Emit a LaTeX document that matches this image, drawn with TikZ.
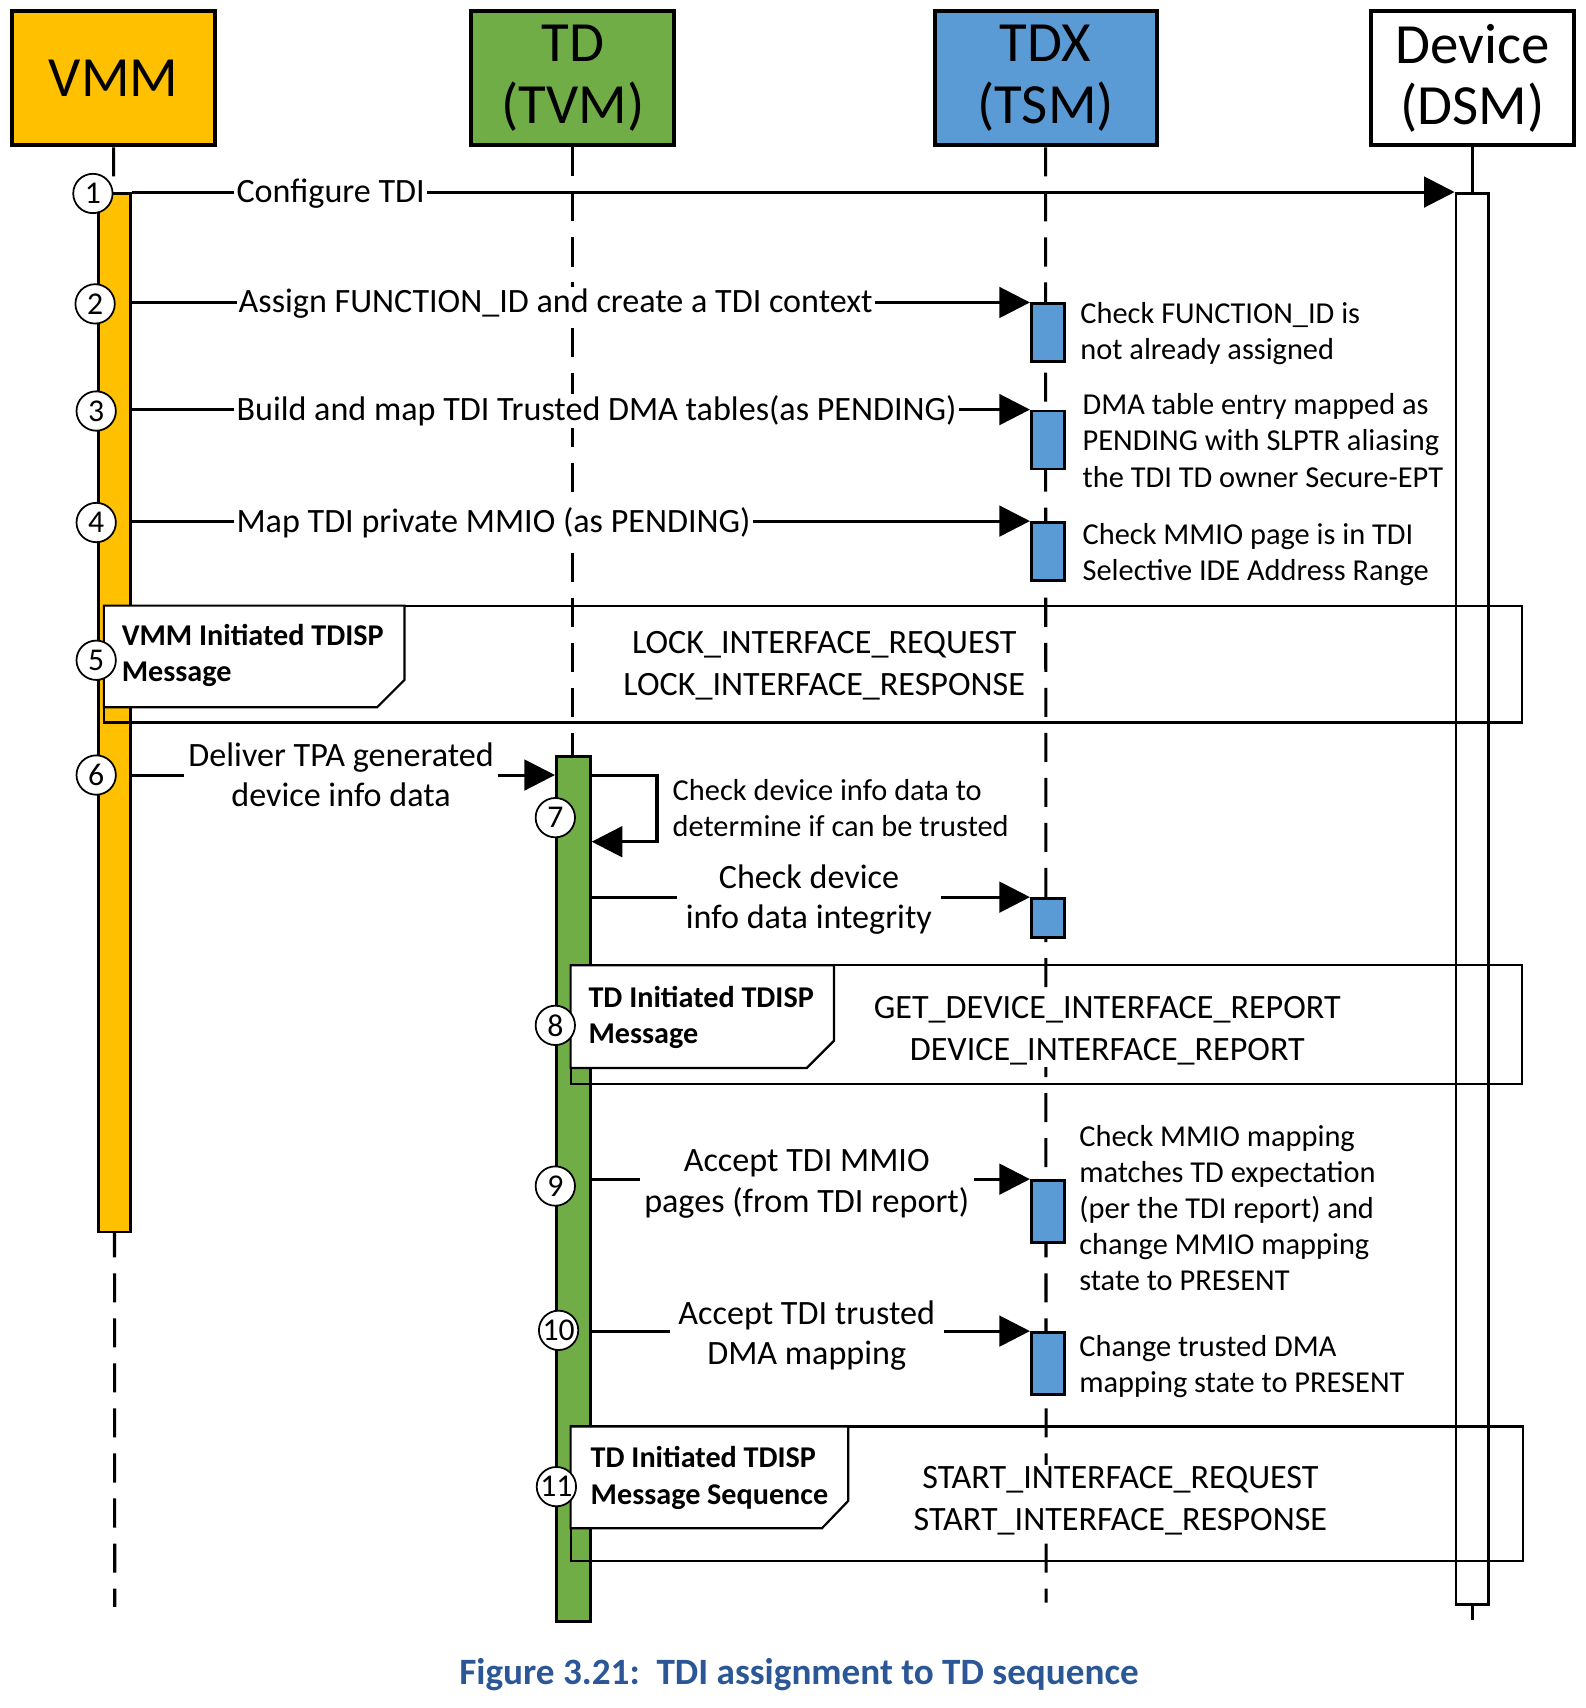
\documentclass[tikz,border=0pt]{standalone}
\usepackage{fontspec}
\setmainfont{Carlito}
\usepackage{xcolor}
\usepackage{tikz}
\usetikzlibrary{shapes,arrows.meta,positioning,calc}

\definecolor{vmmfill}{HTML}{FFC000}
\definecolor{tdfill}{HTML}{70AD47}
\definecolor{tdxfill}{HTML}{5B9BD5}
\definecolor{capblue}{HTML}{2B5797}

\tikzset{
  head/.style={draw, line width=1.8pt, minimum height=61.5pt, inner sep=0pt,
    align=center, font=\fontsize{26}{28}\selectfont},
  life/.style={line width=1.4pt, dash pattern=on 13.3pt off 7.3pt},
  actbar/.style={draw, line width=1.3pt, inner sep=0pt, minimum width=15pt},
  tsmbox/.style={actbar, fill=tdxfill},
  msg/.style={line width=1.4pt, -{Triangle[length=14pt,width=14pt]}},
  msglbl/.style={fill=white, inner xsep=1pt, inner ysep=1pt, align=center,
    font=\fontsize{15.6}{18.5}\selectfont},
  note/.style={anchor=west, inner sep=0pt, align=left,
    font=\fontsize{13.9}{16.5}\selectfont},
  stepnum/.style={circle, draw, fill=white, line width=0.8pt, minimum size=18pt,
    inner sep=0pt, font=\fontsize{14.5}{14.5}\selectfont},
  seqframe/.style={draw, line width=1pt},
  seqtab/.style={draw, fill=white, line width=1pt},
  tabtxt/.style={anchor=west, inner sep=0pt, align=left,
    font=\bfseries\fontsize{13.8}{16.5}\selectfont},
  frametxt/.style={fill=white, inner sep=1pt, align=center, font=\fontsize{15.6}{19}\selectfont}
}

\begin{document}
\begin{tikzpicture}[x=0.5pt, y=-0.5pt]
    \useasboundingbox (0,0) rectangle (1450,1562.5);

    % Lifeline heads
    \node[head, fill=vmmfill, minimum width=93pt] (vmm) at (104,71.5) {VMM};
    \node[head, fill=tdfill, minimum width=93pt] (td) at (524,71.5) {TD\\(TVM)};
    \node[head, fill=tdxfill, minimum width=101.5pt] (tdx) at (956.5,71.5) {TDX\\(TSM)};
    \node[head, fill=white, minimum width=93pt] (dev) at (1347,71.5) {Device\\(DSM)};

    % Lifelines
    \coordinate (vmmend) at (105,1470);
    \coordinate (tdend) at (524,1470);
    \coordinate (tdxend) at (957,1466);
    \coordinate (devend) at (1347,1482);
    \draw[life] (vmm.south) -- (vmmend);
    \draw[life] (td.south) -- (tdend);
    \draw[life] (tdx.south) -- (tdxend);
    \draw[line width=1.4pt] (dev.south) -- (devend);

    % Activation bars
    \node[actbar, fill=vmmfill, minimum width=14.5pt, minimum height=475pt] (vmmbar) at (104.5,652) {};
    \node[actbar, fill=tdfill, minimum width=15.5pt, minimum height=395.5pt] (tdbar) at (524.5,1087.5) {};
    \node[actbar, fill=white, minimum height=645.5pt] (devbar) at (1347,822.5) {};
    \node[tsmbox, minimum height=26.5pt] (t2) at (958.5,304.5) {};
    \node[tsmbox, minimum height=26.5pt] (t3) at (958.5,402.5) {};
    \node[tsmbox, minimum height=26.5pt] (t4) at (958.5,504.5) {};
    \node[tsmbox, minimum height=18pt] (t7) at (958.5,840) {};
    \node[tsmbox, minimum height=28.5pt] (t9) at (958.5,1108.5) {};
    \node[tsmbox, minimum height=28.5pt] (t10) at (958.5,1247.5) {};

    % Messages 1-4: VMM to TDX / Device
    \draw[msg] (vmmbar.north east) -- (devbar.north west);
    \node[msglbl, anchor=west] (l1) at (214,177) {Configure TDI};
    \draw[msg] (vmmbar.east |- t2.north) -- (t2.north west);
    \node[msglbl, anchor=west] (l2) at (216,278) {Assign FUNCTION\_ID and create a TDI context};
    \draw[msg] (vmmbar.east |- t3.north) -- (t3.north west);
    \node[msglbl, anchor=west] (l3) at (214,376) {Build and map TDI Trusted DMA tables(as PENDING)};
    \draw[msg] (vmmbar.east |- t4.north) -- (t4.north west);
    \node[msglbl, anchor=west] (l4) at (214,478) {Map TDI private MMIO (as PENDING)};

    % TDX notes
    \node[note] (n2) at (988,305) {Check FUNCTION\_ID is\\not already assigned};
    \node[note] (n3) at (990,403) {DMA table entry mapped as\\PENDING with SLPTR aliasing\\the TDI TD owner Secure-EPT};
    \node[note] (n4) at (990,507) {Check MMIO page is in TDI\\Selective IDE Address Range};

    % Message 6: VMM to TD
    \coordinate (m6) at (312,709);
    \draw[msg] (vmmbar.east |- m6) -- (tdbar.west |- m6);
    \node[msglbl, inner xsep=2pt] (l6) at (m6) {Deliver TPA generated\\device info data};

    % Message 7: TD self check
    \coordinate (self7) at (601,770);
    \draw[msg] (tdbar.east |- m6) -| (self7) -- (tdbar.east |- self7);
    \node[note] (n7) at (615,739) {Check device info data to\\determine if can be trusted};
    \draw[msg] (tdbar.east |- t7.north) -- (t7.north west);
    \node[msglbl, inner xsep=4pt] (l7) at (740,823) {Check device\\info data integrity};

    % Messages 9-10: TD to TDX
    \draw[msg] (tdbar.east |- t9.north) -- (t9.north west);
    \node[msglbl, inner xsep=2pt] (l9) at (738,1083) {Accept TDI MMIO\\pages (from TDI report)};
    \node[note] (n9) at (987,1105) {Check MMIO mapping\\matches TD expectation\\(per the TDI report) and\\change MMIO mapping\\state to PRESENT};
    \draw[msg] (tdbar.east |- t10.north) -- (t10.north west);
    \node[msglbl, inner xsep=4pt] (l10) at (738,1222) {Accept TDI trusted\\DMA mapping};
    \node[note] (n10) at (987,1250) {Change trusted DMA\\mapping state to PRESENT};

    % Frame 5: VMM initiated TDISP
    \draw[seqframe] (95,554) rectangle (1392,661);
    \draw[seqtab] (95,554) -- (370,554) -- (370,622) -- (345,647) -- (95,647) -- cycle;
    \node[tabtxt] (f5) at (111,600) {VMM Initiated TDISP\\Message};
    \node[frametxt] (g5) at (754,609) {LOCK\_INTERFACE\_REQUEST\\LOCK\_INTERFACE\_RESPONSE};

    % Frame 8: TD initiated TDISP
    \draw[seqframe] (522,883) rectangle (1392,992);
    \draw[seqtab] (522,883) -- (763,883) -- (763,952) -- (738,977) -- (522,977) -- cycle;
    \node[tabtxt] (f8) at (538,931) {TD Initiated TDISP\\Message};
    \node[frametxt] (g8) at (1013,943) {GET\_DEVICE\_INTERFACE\_REPORT\\DEVICE\_INTERFACE\_REPORT};

    % Frame 11: TD initiated TDISP sequence
    \draw[seqframe] (522,1305) rectangle (1393,1428);
    \draw[seqtab] (522,1305) -- (776,1305) -- (776,1373) -- (752,1398) -- (522,1398) -- cycle;
    \node[tabtxt] (f11) at (540,1352) {TD Initiated TDISP\\Message Sequence};
    \node[frametxt] (g11) at (1025,1373) {START\_INTERFACE\_REQUEST\\START\_INTERFACE\_RESPONSE};

    % Step numbers
    \node[stepnum] (c1) at (85,177) {1};
    \node[stepnum] (c2) at (87,278) {2};
    \node[stepnum] (c3) at (88,376) {3};
    \node[stepnum] (c4) at (88,478) {4};
    \node[stepnum] (c5) at (88,604) {5};
    \node[stepnum] (c6) at (88,709) {6};
    \node[stepnum] (c7) at (508,748) {7};
    \node[stepnum] (c8) at (508,938) {8};
    \node[stepnum] (c9) at (508,1085) {9};
    \node[stepnum] (c10) at (511,1217) {10};
    \node[stepnum] (c11) at (509,1360) {11};

    % Caption
    \node[font=\bfseries\fontsize{17}{19}\selectfont, text=capblue] (cap) at (731,1532)
      {Figure 3.21:\ \ TDI assignment to TD sequence};
\end{tikzpicture}
\end{document}
